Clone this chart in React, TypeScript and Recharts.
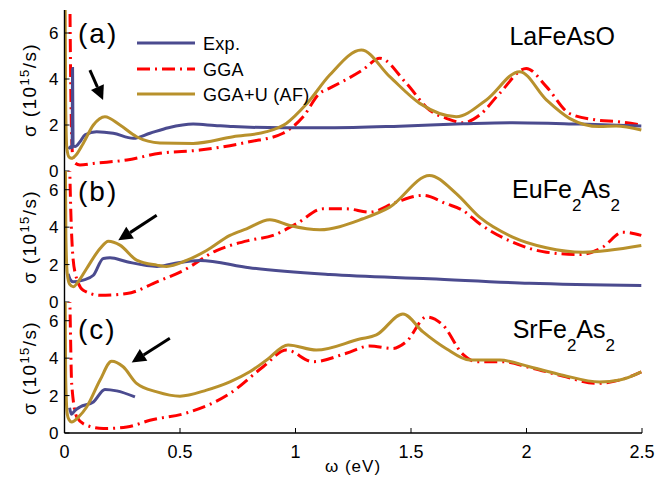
import React from 'react';
import { LineChart, Line, XAxis, YAxis, ReferenceLine } from 'recharts';

const xTicks = [0, 0.5, 1, 1.5, 2, 2.5];
const yTicks = [0, 2, 4, 6];

// (a) LaFeAsO
const aExpX = [0.018, 0.026, 0.033, 0.035, 0.037, 0.046, 0.067, 0.089, 0.139, 0.211, 0.298, 0.37, 0.45, 0.557, 0.65, 0.73, 0.946, 1.148, 1.45, 1.725, 1.94, 2.23, 2.497];
const aExpY = [0.95, 1.05, 1.0, 4.46, 1.1, 1.06, 1.27, 1.57, 1.71, 1.64, 1.42, 1.64, 1.88, 2.04, 1.98, 1.93, 1.88, 1.88, 1.95, 2.05, 2.1, 2.04, 1.96];
const aGgaX = [0.022, 0.028, 0.034, 0.04, 0.067, 0.125, 0.27, 0.413, 0.586, 0.8, 0.946, 1.033, 1.105, 1.148, 1.29, 1.365, 1.48, 1.58, 1.653, 1.725, 1.797, 1.884, 1.999, 2.086, 2.186, 2.3, 2.4, 2.497];
const aGgaY = [9, 3, 0.8, 0.4, 0.26, 0.33, 0.48, 0.77, 0.91, 1.27, 1.64, 2.36, 3.38, 3.6, 4.39, 4.9, 3.81, 2.65, 2.29, 2.1, 2.43, 3.38, 4.46, 3.67, 2.5, 2.22, 2.14, 2.0];
const aGguX = [0.002, 0.005, 0.01, 0.02, 0.031, 0.05, 0.081, 0.125, 0.175, 0.24, 0.312, 0.413, 0.557, 0.73, 0.875, 0.96, 1.05, 1.148, 1.285, 1.408, 1.538, 1.696, 1.826, 1.97, 2.086, 2.186, 2.316, 2.388, 2.497];
const aGguY = [9, 3, 1.0, 0.6, 0.55, 0.7, 1.2, 2.0, 2.36, 2.0, 1.49, 1.22, 1.2, 1.49, 1.71, 2.07, 2.94, 4.17, 5.26, 4.1, 2.94, 2.36, 3.09, 4.32, 3.09, 2.29, 1.93, 1.96, 1.78];

// (b) EuFe2As2
const bExpX = [0.016, 0.025, 0.038, 0.081, 0.125, 0.168, 0.197, 0.27, 0.4, 0.47, 0.586, 0.8, 1.148, 1.58, 2.013, 2.497];
const bExpY = [1.5, 1.2, 1.08, 1.17, 1.43, 2.33, 2.36, 2.15, 1.9, 2.05, 2.22, 1.83, 1.47, 1.24, 1.0, 0.88];
const bGgaX = [0.02, 0.024, 0.031, 0.045, 0.081, 0.154, 0.27, 0.4, 0.514, 0.658, 0.717, 0.802, 0.903, 1.004, 1.12, 1.22, 1.321, 1.437, 1.552, 1.653, 1.725, 1.797, 1.94, 2.086, 2.23, 2.33, 2.417, 2.497];
const bGgaY = [9, 6.43, 3.57, 1.61, 0.63, 0.36, 0.45, 1.08, 1.68, 2.75, 3.02, 3.3, 3.56, 4.18, 4.98, 4.98, 4.8, 5.34, 5.7, 5.25, 4.89, 4.18, 3.2, 2.66, 2.54, 2.93, 3.73, 3.56];
const bGguX = [0.003, 0.006, 0.012, 0.022, 0.038, 0.06, 0.096, 0.154, 0.19, 0.24, 0.312, 0.4, 0.442, 0.528, 0.615, 0.716, 0.788, 0.889, 0.975, 1.105, 1.292, 1.408, 1.58, 1.696, 1.797, 1.94, 2.086, 2.244, 2.497];
const bGguY = [9, 3.5, 1.5, 0.95, 0.81, 1.1, 1.79, 2.86, 3.25, 3.04, 2.24, 1.97, 1.9, 2.22, 2.75, 3.56, 3.91, 4.39, 4.09, 3.86, 4.45, 5.07, 6.76, 5.79, 4.53, 3.47, 2.9, 2.66, 3.02];

// (c) SrFe2As2
const cExpX = [0.022, 0.03, 0.045, 0.067, 0.125, 0.175, 0.226, 0.305];
const cExpY = [1.35, 1.0, 1.2, 1.39, 1.66, 2.33, 2.25, 1.93];
const cGgaX = [0.02, 0.024, 0.031, 0.053, 0.096, 0.168, 0.27, 0.37, 0.528, 0.716, 0.86, 0.961, 1.076, 1.22, 1.321, 1.422, 1.48, 1.567, 1.638, 1.725, 1.783, 1.898, 2.013, 2.157, 2.302, 2.403, 2.497];
const cGgaY = [9, 6.58, 2.65, 0.86, 0.41, 0.24, 0.32, 0.68, 1.07, 2.11, 3.54, 4.43, 3.81, 4.26, 4.65, 4.52, 4.88, 6.2, 5.77, 4.2, 3.81, 3.81, 3.5, 3.05, 2.65, 2.83, 3.27];
const cGguX = [0.002, 0.005, 0.012, 0.02, 0.031, 0.06, 0.096, 0.154, 0.204, 0.254, 0.312, 0.4, 0.5, 0.615, 0.716, 0.802, 0.875, 0.968, 1.09, 1.278, 1.35, 1.465, 1.552, 1.653, 1.754, 1.884, 2.013, 2.157, 2.316, 2.403, 2.497];
const cGguY = [9, 3, 1.0, 0.7, 0.59, 0.85, 1.39, 2.83, 3.84, 3.54, 2.65, 2.2, 1.97, 2.29, 2.73, 3.27, 3.9, 4.7, 4.43, 5.02, 5.24, 6.36, 5.4, 4.5, 3.9, 3.9, 3.54, 3.09, 2.73, 2.83, 3.27];

// arrows pointing at the low-energy peak, [from, to] in data units
const aArrow = [[0.11, 4.39], [0.167, 3.09]];
const bArrow = [[0.399, 4.63], [0.233, 3.3]];
const cArrow = [[0.456, 5.06], [0.291, 3.77]];

const BLUE = '#4b4b8f';
const RED = '#ff0000';
const GOLD = '#b8912c';
const FONT = '"Liberation Sans", Arial, sans-serif';

const zip = (xs: number[], ys: number[]) => xs.map((x, i) => ({ x, y: ys[i] }));

const Arrow = (p: any) => {
  const { x1, y1, x2, y2 } = p;
  const a = Math.atan2(y2 - y1, x2 - x1);
  const L = 14, W = 7;
  const bx = x2 - L * Math.cos(a), by = y2 - L * Math.sin(a);
  const nx = -Math.sin(a) * W, ny = Math.cos(a) * W;
  return (
    <g>
      <line x1={x1} y1={y1} x2={bx} y2={by} stroke="#000" strokeWidth={3} />
      <polygon points={`${x2},${y2} ${bx + nx},${by + ny} ${bx - nx},${by - ny}`} fill="#000" />
    </g>
  );
};

type PanelProps = {
  top: number;
  height: number;
  mb: number;
  exp: { x: number; y: number }[];
  gga: { x: number; y: number }[];
  ggu: { x: number; y: number }[];
  arrow: number[][];
  bottomAxis?: boolean;
};

const axisLine = { stroke: '#000', strokeWidth: 1.4 };
const tickLine = { stroke: '#000', strokeWidth: 1 };

const Panel = ({ top, height, mb, exp, gga, ggu, arrow, bottomAxis }: PanelProps) => (
  <div style={{ position: 'absolute', left: 0, top }}>
    <LineChart width={657} height={height} margin={{ top: 10, right: 15, bottom: mb, left: 0 }}>
      <XAxis
        xAxisId="b" type="number" dataKey="x" domain={[0, 2.5]} ticks={xTicks} allowDataOverflow
        height={bottomAxis ? 52 : 0}
        tick={bottomAxis ? { fill: '#000', fontSize: 18, fontFamily: FONT } : false}
        tickSize={-5} tickMargin={17} axisLine={axisLine} tickLine={tickLine}
      />
      <XAxis
        xAxisId="t" orientation="top" type="number" dataKey="x" domain={[0, 2.5]} ticks={xTicks}
        height={0} tick={false} tickSize={-5} axisLine={axisLine} tickLine={tickLine}
      />
      <YAxis
        yAxisId="l" type="number" domain={[0, 7]} ticks={yTicks} allowDataOverflow width={64.5}
        tick={{ fill: '#000', fontSize: 17, fontFamily: FONT }}
        tickSize={-5} tickMargin={11} axisLine={axisLine} tickLine={tickLine}
      />
      <YAxis
        yAxisId="r" orientation="right" type="number" domain={[0, 7]} ticks={yTicks} width={0}
        tick={false} tickSize={-5} axisLine={axisLine} tickLine={tickLine}
      />
      <Line xAxisId="b" yAxisId="l" data={gga} dataKey="y" type="monotone" stroke={RED} strokeWidth={3}
        strokeDasharray="13 5 2 5" dot={false} isAnimationActive={false} />
      <Line xAxisId="b" yAxisId="l" data={exp} dataKey="y" type="monotone" stroke={BLUE} strokeWidth={3}
        dot={false} isAnimationActive={false} />
      <Line xAxisId="b" yAxisId="l" data={ggu} dataKey="y" type="monotone" stroke={GOLD} strokeWidth={3}
        dot={false} isAnimationActive={false} />
      <ReferenceLine
        xAxisId="b" yAxisId="l" ifOverflow="visible"
        segment={[{ x: arrow[0][0], y: arrow[0][1] }, { x: arrow[1][0], y: arrow[1][1] }]}
        shape={Arrow}
      />
    </LineChart>
  </div>
);

const YLabel = ({ cy }: { cy: number }) => (
  <text transform={`translate(36, ${cy}) rotate(-90)`} textAnchor="middle" fontSize={19} fontFamily={FONT}
    letterSpacing={1.4} fill="#000">
    σ (10<tspan fontSize={13} dy={-7}>15</tspan><tspan dy={7}>/s)</tspan>
  </text>
);

const Formula = ({ x, y, parts }: { x: number; y: number; parts: string[] }) => (
  <text x={x} y={y} textAnchor="end" fontSize={25} fontFamily={FONT} fill="#000">
    {parts.map((p, i) =>
      i % 2 === 0
        ? <tspan key={i} dy={i === 0 ? 0 : -13}>{p}</tspan>
        : <tspan key={i} fontSize={17} dy={13}>{p}</tspan>
    )}
  </text>
);

export default function App() {
  const legend = [
    { name: 'Exp.', color: BLUE, dash: undefined, y: 43 },
    { name: 'GGA', color: RED, dash: '13 5 2 5', y: 69 },
    { name: 'GGA+U (AF)', color: GOLD, dash: undefined, y: 94 },
  ];
  return (
    <div style={{ position: 'absolute', left: 0, top: 0, width: 657, height: 485, background: '#fff' }}>
      <Panel top={0} height={190} mb={19} exp={zip(aExpX, aExpY)} gga={zip(aGgaX, aGgaY)} ggu={zip(aGguX, aGguY)} arrow={aArrow} />
      <Panel top={161} height={160} mb={19} exp={zip(bExpX, bExpY)} gga={zip(bGgaX, bGgaY)} ggu={zip(bGguX, bGguY)} arrow={bArrow} />
      <Panel top={292} height={193} mb={0} exp={zip(cExpX, cExpY)} gga={zip(cGgaX, cGgaY)} ggu={zip(cGguX, cGguY)} arrow={cArrow} bottomAxis />
      <svg width={657} height={485} style={{ position: 'absolute', left: 0, top: 0, pointerEvents: 'none' }}>
        <YLabel cy={90} />
        <YLabel cy={237} />
        <YLabel cy={368} />
        <text x={78} y={43} fontSize={28} letterSpacing={2} fontFamily={FONT} fill="#000">(a)</text>
        <text x={78} y={200.5} fontSize={28} letterSpacing={2} fontFamily={FONT} fill="#000">(b)</text>
        <text x={78} y={339} fontSize={28} letterSpacing={2} fontFamily={FONT} fill="#000">(c)</text>
        <Formula x={615} y={45} parts={['LaFeAsO']} />
        <Formula x={620} y={198} parts={['EuFe', '2', 'As', '2']} />
        <Formula x={615} y={338} parts={['SrFe', '2', 'As', '2']} />
        {legend.map((l) => (
          <g key={l.name}>
            <line x1={137} x2={195} y1={l.y} y2={l.y} stroke={l.color} strokeWidth={3} strokeDasharray={l.dash} />
            <text x={203} y={l.y + 6.5} fontSize={18} fontFamily={FONT} letterSpacing={0.3} fill="#000">{l.name}</text>
          </g>
        ))}
        <text x={353} y={472} textAnchor="middle" fontSize={17} fontFamily={FONT} letterSpacing={1} fill="#000">ω (eV)</text>
      </svg>
    </div>
  );
}
